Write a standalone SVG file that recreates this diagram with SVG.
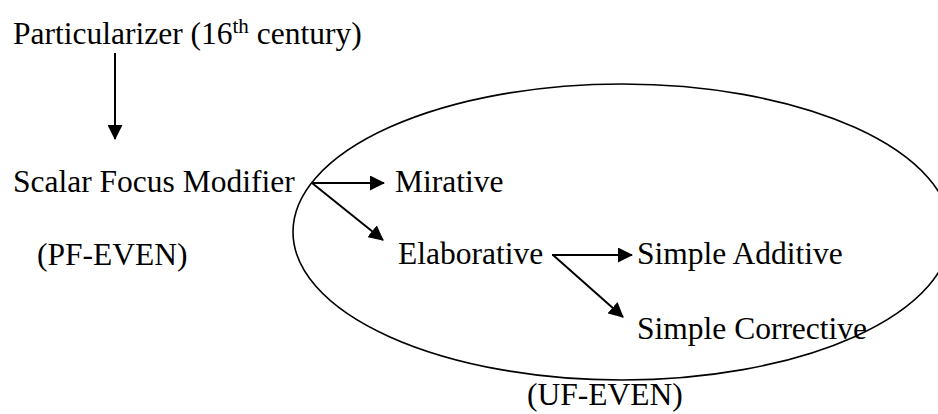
<svg xmlns="http://www.w3.org/2000/svg" width="938" height="414" viewBox="0 0 938 414">
<defs>
<marker id="ah" markerWidth="15" markerHeight="15" refX="14" refY="7.5" orient="auto" markerUnits="userSpaceOnUse">
<path d="M0,0 L15,7.5 L0,15 Z" fill="#000"/>
</marker>
<style>
text{font-family:"Liberation Serif","Times New Roman",serif;font-size:31.5px;fill:#000}
.c{stroke:#000;stroke-width:2;fill:none}
</style>
</defs>
<rect width="938" height="414" fill="#fff"/>
<g id="uf-even-region">
<ellipse cx="622" cy="232" rx="329" ry="148" fill="none" stroke="#000" stroke-width="1.6"/>
<text x="527" y="405">(UF-EVEN)</text>
</g>
<g id="particularizer"><text x="13" y="44">Particularizer (16<tspan font-size="21" dy="-11">th</tspan><tspan dy="11"> century)</tspan></text></g>
<g id="scalar"><text x="13" y="192">Scalar Focus Modifier</text></g>
<g id="pf-even"><text x="37" y="265">(PF-EVEN)</text></g>
<g id="mirative"><text x="395" y="192">Mirative</text></g>
<g id="elaborative"><text x="398" y="264">Elaborative</text></g>
<g id="additive"><text x="637" y="264">Simple Additive</text></g>
<g id="corrective"><text x="637" y="339">Simple Corrective</text></g>
<g id="connectors">
<line class="c" x1="115" y1="53" x2="115" y2="139" marker-end="url(#ah)"/>
<line class="c" x1="312" y1="183" x2="384" y2="183" marker-end="url(#ah)"/>
<line class="c" x1="312" y1="183" x2="383" y2="240" marker-end="url(#ah)"/>
<line class="c" x1="552" y1="255" x2="632" y2="255" marker-end="url(#ah)"/>
<line class="c" x1="553" y1="255" x2="623" y2="317" marker-end="url(#ah)"/>
</g>
</svg>
